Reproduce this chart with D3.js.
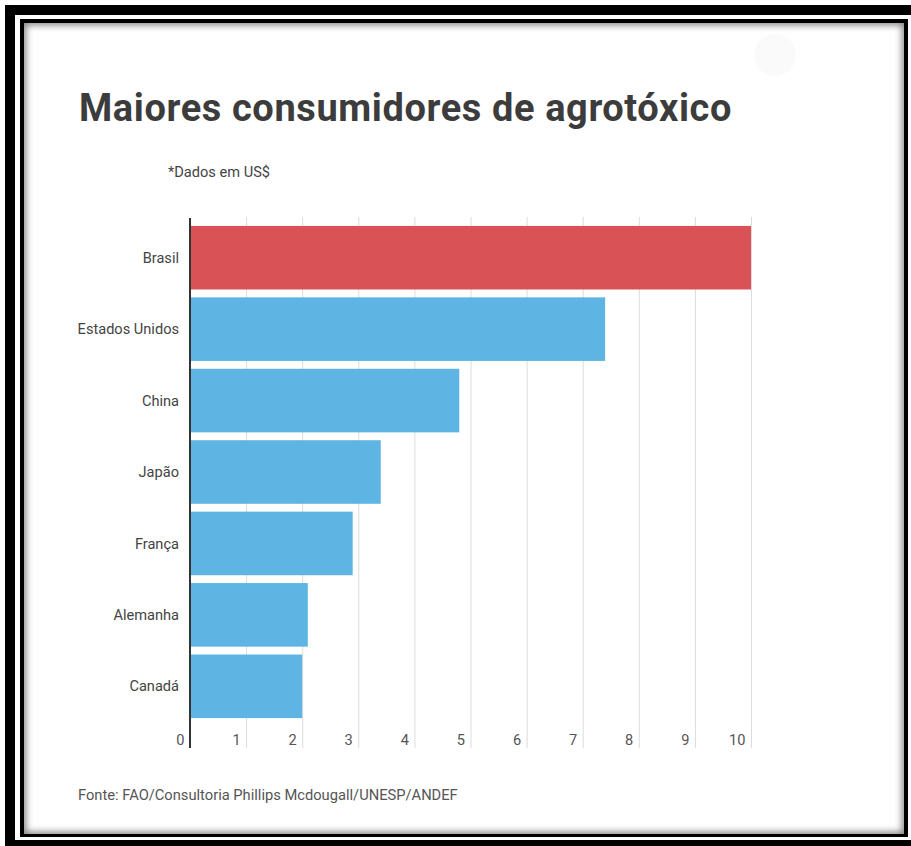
<!DOCTYPE html>
<html>
<head>
<meta charset="utf-8">
<script src="https://cdn.jsdelivr.net/npm/d3@7"></script>
<style>
  body { margin: 0; background: #fff; }
  svg { display: block; font-family: Roboto, "Noto Sans", sans-serif; }
</style>
</head>
<body>
<svg id="chart" width="911" height="846"></svg>
<script>
// data
var countries = ["Brasil", "Estados Unidos", "China", "Japão", "França", "Alemanha", "Canadá"];
var values = [10.0, 7.4, 4.8, 3.4, 2.9, 2.1, 2.0];
var barColors = ["#d95356", "#5eb5e3", "#5eb5e3", "#5eb5e3", "#5eb5e3", "#5eb5e3", "#5eb5e3"];
var xTicks = [0, 1, 2, 3, 4, 5, 6, 7, 8, 9, 10];

var titleText = "Maiores consumidores de agrotóxico",
    subText = "*Dados em US$",
    sourceText = "Fonte: FAO/Consultoria Phillips Mcdougall/UNESP/ANDEF";

var svg = d3.select("#chart");

//--Frame (black border, white gap, inner border with inset shadow)
var defs = svg.append("defs");
defs.append("clipPath").attr("id", "innerClip")
    .append("rect").attr("x", 24).attr("y", 23).attr("width", 880).attr("height", 811);
defs.append("filter").attr("id", "blur")
    .attr("x", "-5%").attr("y", "-5%").attr("width", "110%").attr("height", "110%")
    .append("feGaussianBlur").attr("stdDeviation", 3.5);

svg.append("rect").attr("x", 5).attr("y", 5).attr("width", 920).attr("height", 860).attr("fill", "#000");
svg.append("rect").attr("x", 15).attr("y", 15).attr("width", 910).attr("height", 825).attr("fill", "#fff");
svg.append("rect").attr("x", 20).attr("y", 19).attr("width", 888).attr("height", 818).attr("fill", "#000");
svg.append("rect").attr("x", 24).attr("y", 23).attr("width", 880).attr("height", 811).attr("fill", "#fff");
svg.append("g").attr("clip-path", "url(#innerClip)")
    .append("rect")
    .attr("x", 22).attr("y", 21).attr("width", 884).attr("height", 815)
    .attr("fill", "none")
    .attr("stroke", "#000")
    .attr("stroke-opacity", 0.5)
    .attr("stroke-width", 8)
    .attr("filter", "url(#blur)");

// faint button ghost top right
svg.append("circle").attr("cx", 775).attr("cy", 55).attr("r", 21).attr("fill", "#fafafa");

//--Texts
svg.append("text")
    .attr("x", 79).attr("y", 121)
    .attr("font-size", "38px")
    .attr("font-weight", "bold")
    .attr("letter-spacing", "0.6px")
    .attr("fill", "#3c3c3c")
    .text(titleText);

svg.append("text")
    .attr("x", 168).attr("y", 177)
    .attr("font-size", "14.6px")
    .attr("fill", "#444")
    .text(subText);

svg.append("text")
    .attr("x", 78).attr("y", 800)
    .attr("font-size", "14.7px")
    .attr("fill", "#555")
    .text(sourceText);

//--Chart
var margin = {left: 190, right: 160, top: 222, bottom: 124};

var g = svg.append("g").attr("transform", "translate(" + margin.left + "," + margin.top + ")");

var x = d3.scaleLinear().domain([0, 10]).range([0, 561]);
var y = d3.scaleBand().domain(countries).range([0, 500]).paddingInner(0.11).paddingOuter(0.055);

// gridlines
g.selectAll("line.grid")
    .data(xTicks.slice(1))
    .enter().append("line")
    .attr("class", "grid")
    .attr("x1", function(d) { return x(d) + 0.5; })
    .attr("x2", function(d) { return x(d) + 0.5; })
    .attr("y1", -5)
    .attr("y2", 526)
    .attr("stroke", "#dcdcdc")
    .attr("stroke-width", 1);

// bars
g.selectAll("rect.bar")
    .data(values)
    .enter().append("rect")
    .attr("class", "bar")
    .attr("x", x(0))
    .attr("y", function(d, i) { return y(countries[i]); })
    .attr("width", function(d) { return x(d) - x(0); })
    .attr("height", y.bandwidth())
    .attr("fill", function(d, i) { return barColors[i]; });

// axis line
g.append("line")
    .attr("x1", x(0)).attr("x2", x(0))
    .attr("y1", -4).attr("y2", 526)
    .attr("stroke", "#333")
    .attr("stroke-width", 2);

// category labels
g.selectAll("text.cat")
    .data(countries)
    .enter().append("text")
    .attr("class", "cat")
    .attr("x", -11)
    .attr("y", function(d) { return y(d) + y.bandwidth() / 2; })
    .attr("dy", "0.35em")
    .attr("text-anchor", "end")
    .attr("font-size", "14.6px")
    .attr("fill", "#444")
    .text(function(d) { return d; });

// x tick labels, right aligned against their gridline
var xAxis = d3.axisBottom(x).tickValues(xTicks).tickSize(0).tickPadding(0);
var ax = g.append("g")
    .attr("transform", "translate(0," + 523 + ")")
    .call(xAxis);
ax.select(".domain").remove();
ax.selectAll("text")
    .attr("text-anchor", "end")
    .attr("x", -6)
    .attr("dy", 0)
    .attr("font-family", "Roboto, sans-serif")
    .attr("font-size", "14.6px")
    .attr("fill", "#555");
</script>
</body>
</html>
